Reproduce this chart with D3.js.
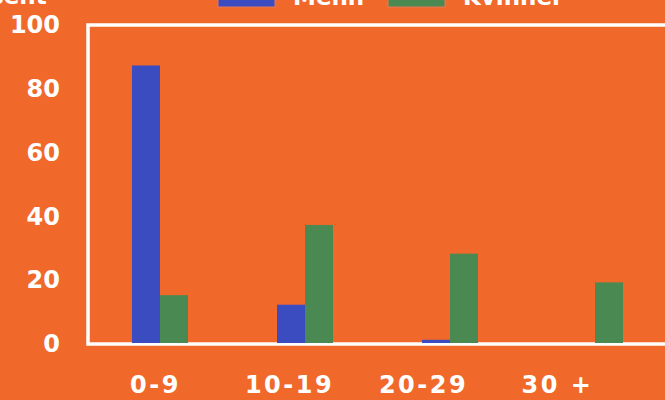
<!DOCTYPE html>
<html>
<head>
<meta charset="utf-8">
<script src="https://cdn.jsdelivr.net/npm/d3@7"></script>
<style>
  body { margin: 0; background: #f1682b; }
  svg { display: block; }
  text { font-family: "DejaVu Sans", sans-serif; font-weight: bold; fill: #fff; }
</style>
</head>
<body>
<div id="wrapper"></div>
<script>
// data
const ageGroups = ["0-9", "10-19", "20-29", "30 +"];
const menn = [87, 12, 1, 0];
const kvinner = [15, 37, 28, 19];
const seriesNames = ["Menn", "Kvinner"];
const yTicks = [0, 20, 40, 60, 80, 100];

const width = 665;
const height = 400;
const colors = { Menn: "#3a4cc0", Kvinner: "#4a8a52" };

const svg = d3.select("#wrapper")
  .append("svg")
  .attr("width", width)
  .attr("height", height);

svg.append("rect")
  .attr("width", width)
  .attr("height", height)
  .attr("fill", "#f1682b");

// scales
const yScale = d3.scaleLinear()
  .domain([0, 100])
  .range([344, 25]);

const x0 = d3.scaleBand()
  .domain(ageGroups)
  .range([132, 623])
  .paddingInner(0.614)
  .paddingOuter(0)
  .align(0);

const x1 = d3.scaleBand()
  .domain(seriesNames)
  .range([0, x0.bandwidth()]);

const xLabel = d3.scalePoint()
  .domain(ageGroups)
  .range([155, 557]);

// frame
svg.append("rect")
  .attr("x", 88)
  .attr("y", yScale(100))
  .attr("width", 620)
  .attr("height", yScale(0) - yScale(100))
  .attr("fill", "none")
  .attr("stroke", "#fff")
  .attr("stroke-width", 3.5);

// bars
const rows = ageGroups.map((g, i) => ({ group: g, Menn: menn[i], Kvinner: kvinner[i] }));

svg.append("g")
  .selectAll("g")
  .data(rows)
  .join("g")
  .attr("transform", d => `translate(${x0(d.group)},0)`)
  .selectAll("rect")
  .data(d => seriesNames.map(k => ({ key: k, value: d[k] })))
  .join("rect")
  .attr("x", d => x1(d.key))
  .attr("y", d => yScale(d.value) - 1)
  .attr("width", x1.bandwidth())
  .attr("height", d => d.value ? yScale(0) - yScale(d.value) : 0)
  .attr("fill", d => colors[d.key]);

// y axis labels
const yAxis = svg.append("g")
  .attr("transform", "translate(60,0)")
  .call(d3.axisLeft(yScale).tickValues(yTicks).tickSize(0).tickPadding(0));
yAxis.select(".domain").remove();
yAxis.selectAll("text")
  .attr("fill", "#fff")
  .style("font-family", "DejaVu Sans, sans-serif")
  .style("font-weight", "bold")
  .style("font-size", "24px");

// x axis labels
const xAxis = svg.append("g")
  .attr("transform", "translate(0,376)")
  .call(d3.axisBottom(xLabel).tickSize(0).tickPadding(0));
xAxis.select(".domain").remove();
xAxis.selectAll("text")
  .attr("fill", "#fff")
  .attr("dy", "0.71em")
  .style("font-family", "DejaVu Sans, sans-serif")
  .style("font-weight", "bold")
  .style("font-size", "24px")
  .style("letter-spacing", "2.5px");

// axis title, cut by the top edge
svg.append("text")
  .attr("x", -54)
  .attr("y", 4)
  .style("font-size", "23px")
  .text("Prosent");

// legend
const legend = svg.append("g");
const legendX = [218, 388];
seriesNames.forEach((name, i) => {
  legend.append("rect")
    .attr("x", legendX[i])
    .attr("y", -12)
    .attr("width", 57)
    .attr("height", 19)
    .attr("fill", colors[name])
    .attr("stroke", "#e8785a")
    .attr("stroke-width", 1);
  legend.append("text")
    .attr("x", legendX[i] + 75)
    .attr("y", 5)
    .style("font-size", "23px")
    .text(name);
});
</script>
</body>
</html>
